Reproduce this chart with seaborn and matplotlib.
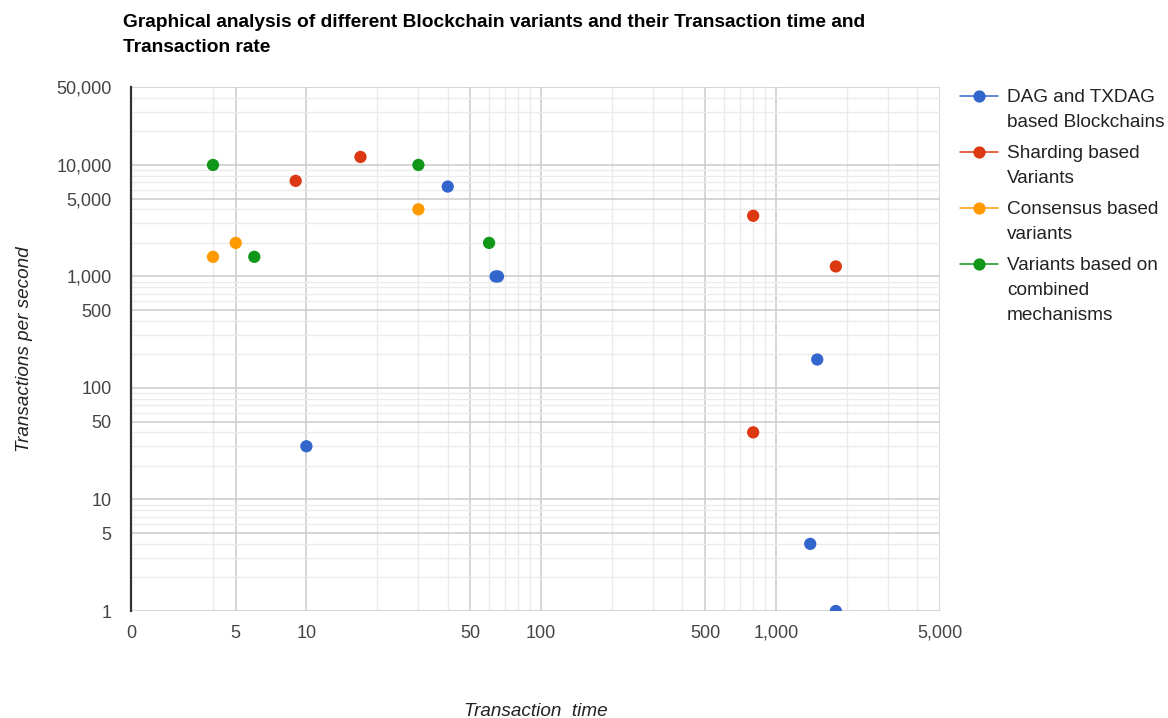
import pandas as pd
import matplotlib.pyplot as plt
import seaborn as sns
from matplotlib.lines import Line2D
from matplotlib.ticker import FixedLocator, NullFormatter

# Данные: время транзакции и транзакции в секунду по группам
dag_x = [10, 40, 64, 65.5, 1500, 1400, 1800]
dag_y = [30, 6400, 1000, 1000, 180, 4, 1]

shard_x = [9, 17, 800, 1800, 800]
shard_y = [7200, 11800, 3500, 1230, 40]

consensus_x = [4, 5, 30]
consensus_y = [1500, 2000, 4000]

combined_x = [4, 6, 30, 60]
combined_y = [10000, 1500, 10000, 2000]

groups = ["DAG and TXDAG\nbased Blockchains", "Sharding based\nVariants",
          "Consensus based\nvariants", "Variants based on\ncombined\nmechanisms"]
colors = ["#3366CC", "#DC3912", "#FF9900", "#109618"]

x_ticks = [1.79, 5, 10, 50, 100, 500, 1000, 5000]
x_labels = ["0", "5", "10", "50", "100", "500", "1,000", "5,000"]
y_ticks = [1, 5, 10, 50, 100, 500, 1000, 5000, 10000, 50000]
y_labels = ["1", "5", "10", "50", "100", "500", "1,000", "5,000", "10,000", "50,000"]

frames = []
for name, xs, ys in zip(groups, [dag_x, shard_x, consensus_x, combined_x],
                        [dag_y, shard_y, consensus_y, combined_y]):
    frames.append(pd.DataFrame({"time": xs, "tps": ys, "group": name}))
df = pd.concat(frames, ignore_index=True)

sns.set_style("white")
plt.rcParams["font.family"] = ["Liberation Sans", "DejaVu Sans"]

W, H = 1168, 718
fig = plt.figure(figsize=(W / 100, H / 100), dpi=100)
ax = fig.add_axes([131 / W, 1 - 611 / H, 809 / W, 524 / H])

sns.scatterplot(data=df, x="time", y="tps", hue="group", palette=colors,
                hue_order=groups, s=78, linewidth=0, alpha=1, legend=False,
                ax=ax, zorder=3)

ax.set_xscale("log")
ax.set_yscale("log")
ax.set_xlim(1.79, 5000)
ax.set_ylim(1, 50000)

# сетка
x_minor = [4] + [m * 10 ** k for k in range(1, 4) for m in range(2, 10) if m != 5]
x_minor = [v for v in x_minor if v < 5000]
y_minor = [m * 10 ** k for k in range(0, 5) for m in range(2, 10) if m != 5]
y_minor = [v for v in y_minor if v < 50000]
ax.xaxis.set_major_locator(FixedLocator(x_ticks))
ax.xaxis.set_minor_locator(FixedLocator(x_minor))
ax.yaxis.set_major_locator(FixedLocator(y_ticks))
ax.yaxis.set_minor_locator(FixedLocator(y_minor))
ax.set_xticklabels(x_labels)
ax.set_yticklabels(y_labels)
ax.xaxis.set_minor_formatter(NullFormatter())
ax.yaxis.set_minor_formatter(NullFormatter())

ax.grid(True, which="major", color="#cccccc", linewidth=1.1, zorder=0)
ax.grid(True, which="minor", color="#ebebeb", linewidth=1.0, zorder=0)
ax.set_axisbelow(True)

for side in ["top", "right", "bottom"]:
    ax.spines[side].set_visible(False)
ax.spines["left"].set_color("#333333")
ax.spines["left"].set_linewidth(1.6)

ax.tick_params(axis="both", which="both", length=0, labelsize=13, labelcolor="#444444")
ax.tick_params(axis="y", pad=14)
ax.tick_params(axis="x", pad=10)

ax.set_xlabel("Transaction  time", fontsize=13.6, style="italic", color="#222222")
ax.set_ylabel("Transactions per second", fontsize=13.6, style="italic", color="#222222")
ax.xaxis.set_label_coords(0.5, -(703 - 611) / 524)
ax.yaxis.set_label_coords(-(131 - 33) / 809, 0.5)

# заголовок
fig.text(123 / W, 1 - 26.7 / H,
         "Graphical analysis of different Blockchain variants and their Transaction time and",
         ha="left", va="baseline", fontsize=13.8, fontweight="bold", color="#000000")
fig.text(123 / W, 1 - 51.7 / H, "Transaction rate",
         ha="left", va="baseline", fontsize=13.8, fontweight="bold", color="#000000")

# легенда вручную: маркер на уровне первой строки
y_base = 102
for name, c in zip(groups, colors):
    fig.add_artist(Line2D([960 / W, 998 / W], [1 - (y_base - 6) / H] * 2,
                          transform=fig.transFigure, color=c, lw=1.1,
                          marker=None))
    fig.add_artist(Line2D([979 / W], [1 - (y_base - 6) / H],
                          transform=fig.transFigure, color=c, marker="o",
                          markersize=8.8, markeredgewidth=0, lw=0))
    for line in name.split("\n"):
        fig.text(1007 / W, 1 - y_base / H, line, ha="left", va="baseline",
                 fontsize=13.7, color="#222222")
        y_base += 25
    y_base += 6

fig.savefig("out.png", dpi=100)
